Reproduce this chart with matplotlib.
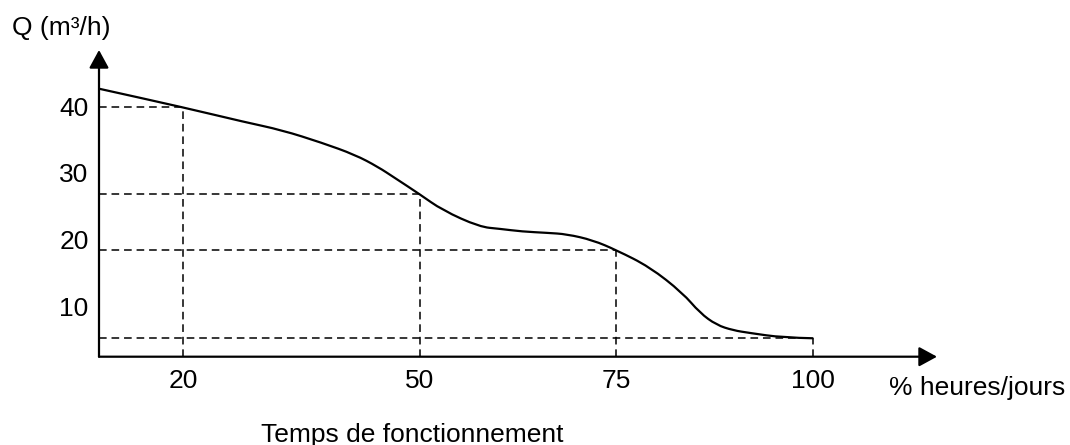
import numpy as np
import matplotlib.pyplot as plt
from matplotlib.path import Path
from matplotlib.patches import PathPatch

plt.rcParams['font.family'] = ['Liberation Sans', 'DejaVu Sans']

temps = [9.3, 20, 27.8, 32.5, 37.6, 41.8, 44.7, 46.9, 50, 52.9, 57.6, 60.2, 63.0,
         66.2, 68.7, 72.0, 75, 79.2, 83.4, 85.6, 87.7, 89.8, 91.9, 96.1, 100]
debit = [42.6, 39.8, 37.6, 36.4, 34.5, 32.7, 30.9, 29.2, 26.8, 24.4, 21.9, 21.6, 21.2,
         21.0, 20.8, 19.9, 18.4, 15.9, 12.0, 9.0, 7.2, 6.4, 6.0, 5.3, 5.2]

# points repérés en pointillés
pts_temps = [20, 50, 75, 100]
pts_debit = [39.8, 26.8, 18.4, 5.2]

xticks = [20, 50, 75, 100]
yticks = [10, 20, 30, 40]
x_min, x_max = 9.3, 115.7
y_min, y_max = 2.44, 48.4

fs = 19

fig = plt.figure(figsize=(10.7, 4.45), dpi=100)
ax = fig.add_axes([99 / 1070, 1 - 356.7 / 445, 838 / 1070, 306.7 / 445])
ax.set_xlim(x_min, x_max)
ax.set_ylim(y_min, y_max)
for s in ax.spines.values():
    s.set_visible(False)

# axes avec flèches
arw = dict(arrowstyle='-|>,head_length=0.55,head_width=0.3', lw=1.6, color='black',
           shrinkA=0, shrinkB=0, mutation_scale=20)
ax.annotate('', xy=(1, 0), xytext=(0, 0), xycoords='axes fraction', arrowprops=arw)
ax.annotate('', xy=(0, 1), xytext=(0, 0), xycoords='axes fraction', arrowprops=arw)

# pointillés
for xv, yv in zip(pts_temps, pts_debit):
    ax.plot([x_min, xv], [yv, yv], color='black', lw=1.1, dashes=(5, 3.2), clip_on=False)
    ax.plot([xv, xv], [y_min, yv], color='black', lw=1.1, dashes=(5, 3.2), clip_on=False)

# courbe lissée (béziers quadratiques passant par les milieux)
P = np.column_stack([temps, debit])
verts = [P[0]]
codes = [Path.MOVETO]
verts.append((P[0] + P[1]) / 2)
codes.append(Path.LINETO)
for i in range(1, len(P) - 1):
    verts += [P[i], (P[i] + P[i + 1]) / 2 if i < len(P) - 2 else P[i + 1]]
    codes += [Path.CURVE3, Path.CURVE3]
ax.add_patch(PathPatch(Path(verts, codes), facecolor='none', edgecolor='black',
                       lw=1.6, clip_on=False))

ax.set_xticks(xticks)
ax.set_yticks(yticks)
ax.set_xticklabels([str(v) for v in xticks])
ax.set_yticklabels([str(v) for v in yticks])
ax.tick_params(axis='both', length=0, labelsize=fs)
ax.tick_params(axis='x', pad=8.5)
ax.tick_params(axis='y', pad=7.5)

fig.text(12 / 1070, 1 - 34.5 / 445, 'Q (m³/h)', fontsize=fs, ha='left', va='baseline')
fig.text(889 / 1070, 1 - 395 / 445, '% heures/jours', fontsize=fs, ha='left', va='baseline')
fig.text(261 / 1070, 1 - 442 / 445, 'Temps de fonctionnement', fontsize=fs,
         ha='left', va='baseline')

fig.savefig('out.png', dpi=100)
